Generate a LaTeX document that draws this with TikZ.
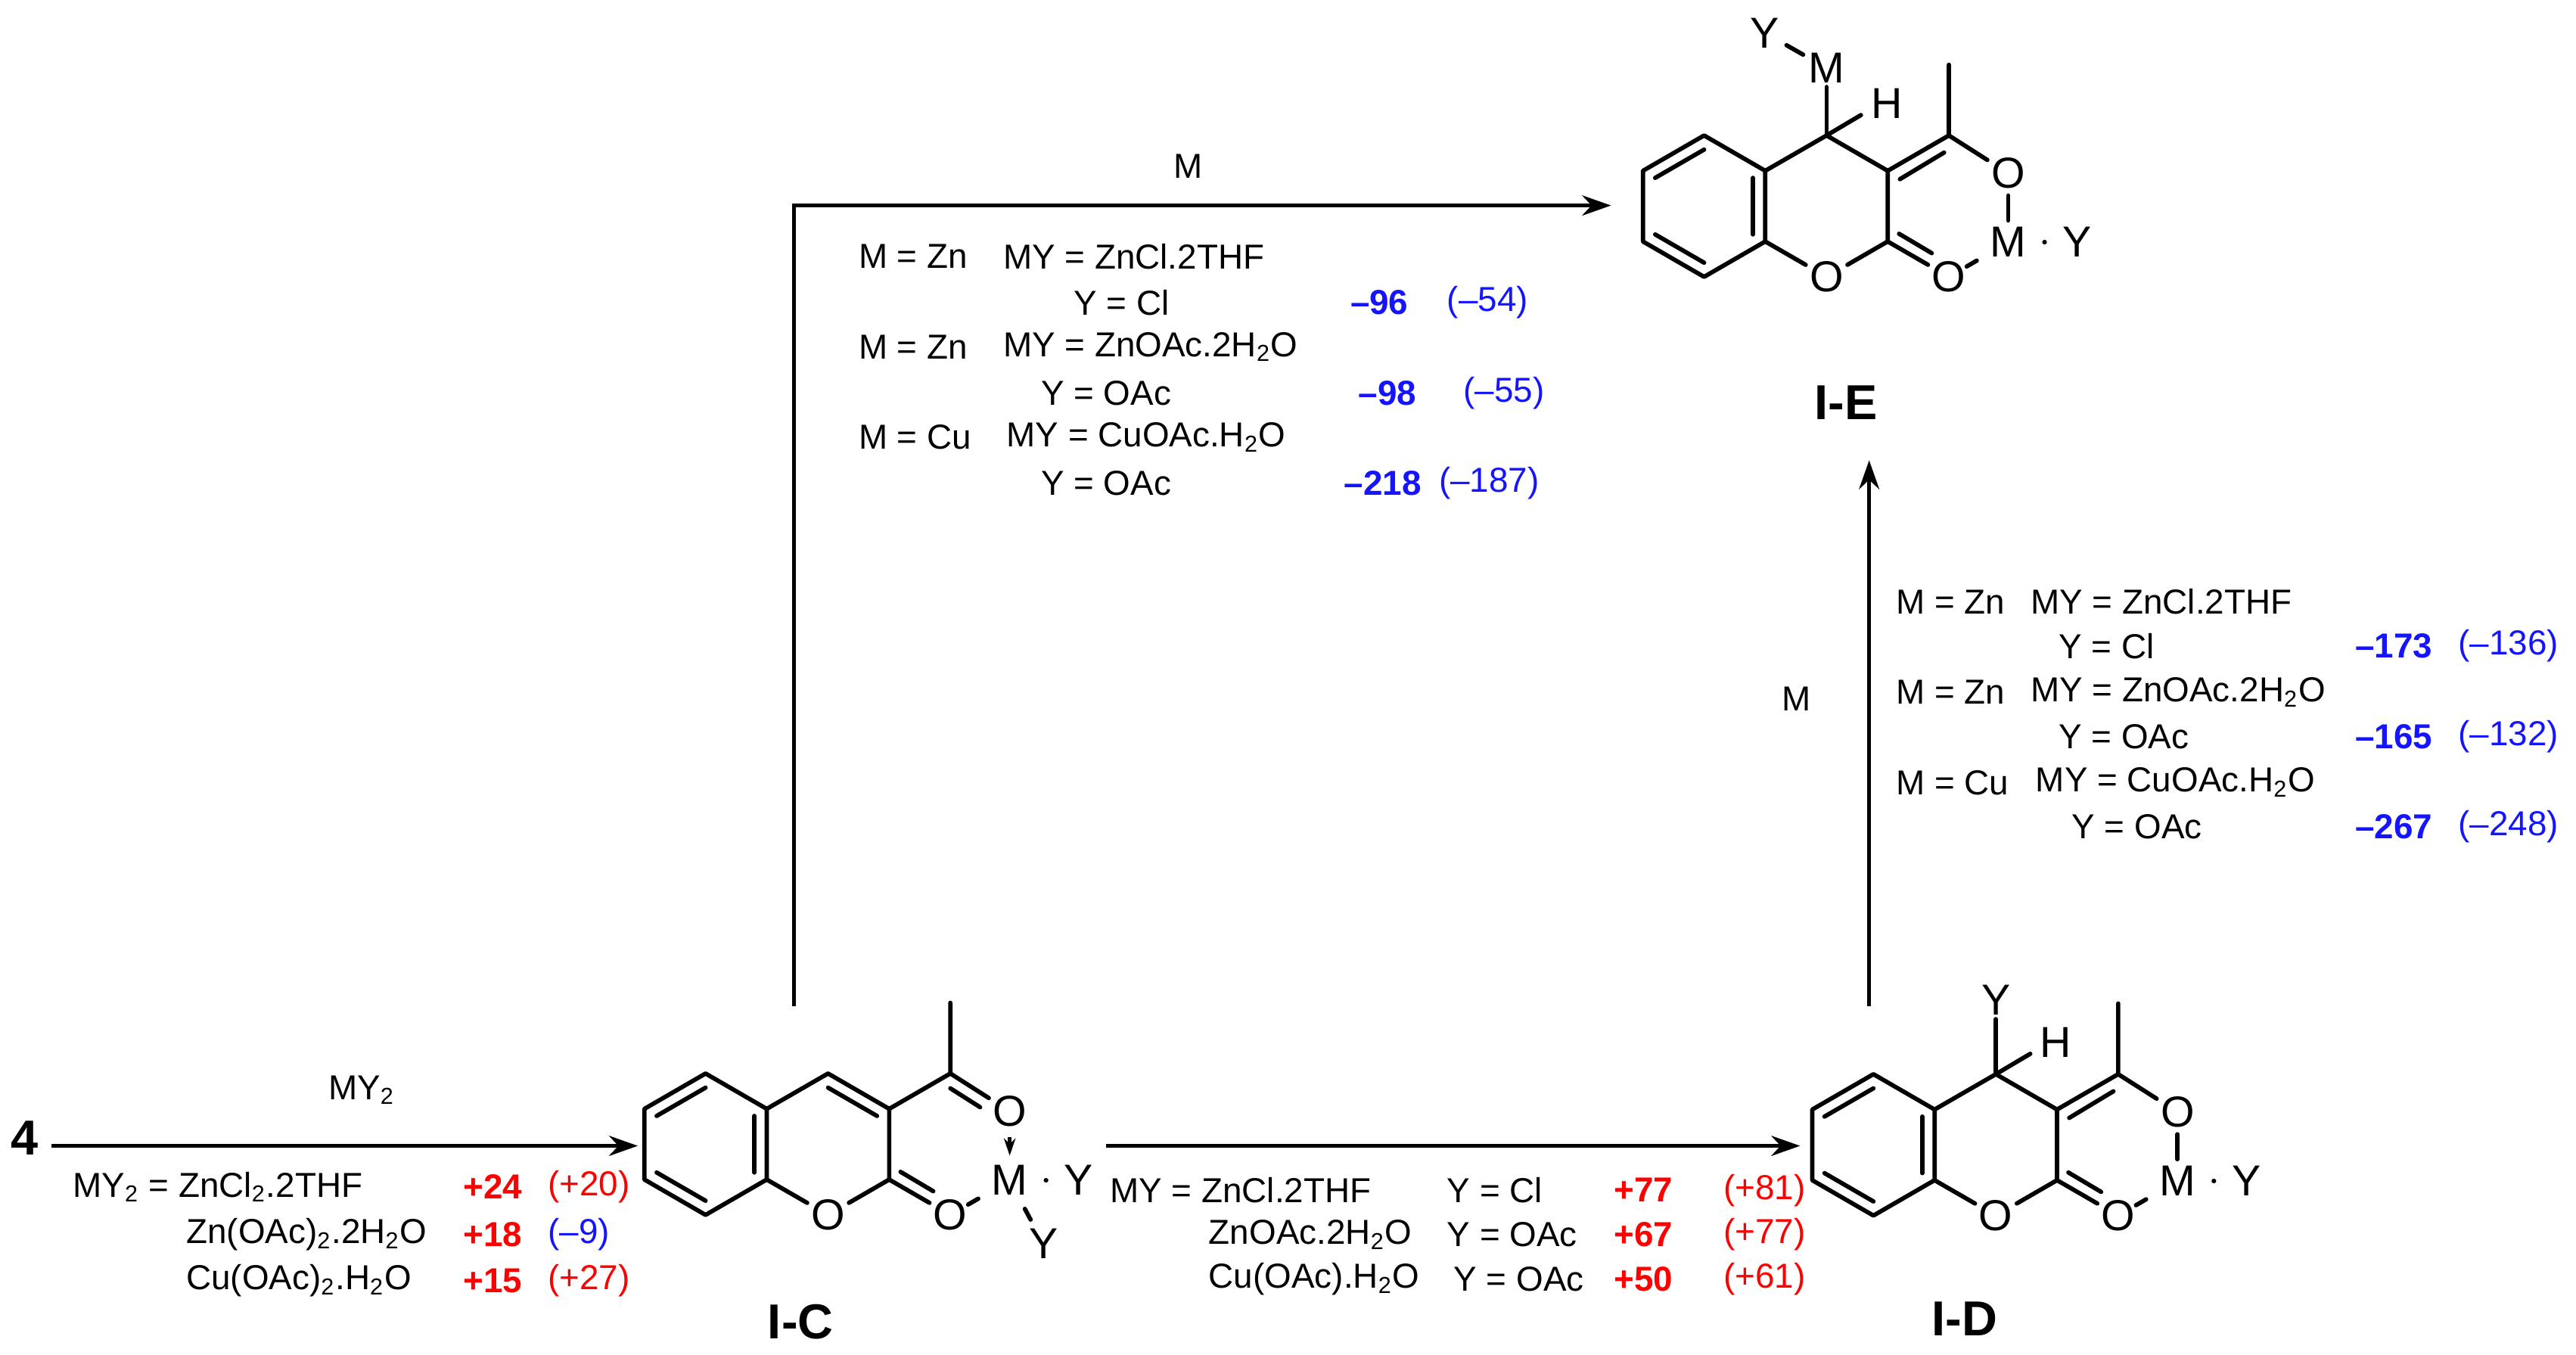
\documentclass[tikz,border=0pt]{standalone}
\usepackage{fontspec}
\setmainfont{Liberation Sans}
\usetikzlibrary{calc,arrows.meta}
\definecolor{myred}{RGB}{255,0,0}
\definecolor{myblue}{RGB}{20,20,255}
\tikzset{
 bond/.style={line width=1.5pt,line cap=round},
 atom/.style={inner sep=1.2pt,font=\fontsize{15}{15}\selectfont},
 rxn/.style={line width=1.3pt,-{Stealth[length=10pt,width=7pt]}},
 txt/.style={inner sep=0pt,anchor=west,font=\fontsize{12}{14}\selectfont},
 rnum/.style={inner sep=0pt,anchor=east,font=\fontsize{12}{14}\selectfont\bfseries,text=myred},
 bnum/.style={inner sep=0pt,anchor=east,font=\fontsize{12}{14}\selectfont\bfseries,text=myblue},
 rpar/.style={inner sep=0pt,anchor=west,font=\fontsize{12}{14}\selectfont,text=myred},
 bpar/.style={inner sep=0pt,anchor=west,font=\fontsize{12}{14}\selectfont,text=myblue},
 lab/.style={font=\fontsize{17}{17}\selectfont\bfseries}
}
\newcommand{\coumcore}[1]{%
 \coordinate (#1c) at (0,0);
 \coordinate (#1b1) at (0,-43); \coordinate (#1b2) at (37.2,-21.5);
 \coordinate (#1b3) at (37.2,21.5); \coordinate (#1b4) at (0,43);
 \coordinate (#1b5) at (-37.2,21.5); \coordinate (#1b6) at (-37.2,-21.5);
 \coordinate (#1C4) at (74.5,-43); \coordinate (#1C3) at (111.7,-21.5);
 \coordinate (#1C2) at (111.7,21.5); \coordinate (#1rc) at (74.5,0);
 \coordinate (#1Ca) at (148.9,-43); \coordinate (#1Me) at (148.9,-86);
 \node[atom] (#1O1) at (74.5,43) {O};
 \node[atom] (#1Oa) at (185,-20) {O};
 \node[atom] (#1M) at (185,22) {M};
 \node[atom] (#1Ox) at (148.9,43) {O};
 \node[atom] (#1Yr) at (227,22) {Y};
 \draw[bond,line join=round] (#1b1)--(#1b2)--(#1b3)--(#1b4)--(#1b5)--(#1b6)--cycle;
 \draw[bond,line join=round] (#1b2)--(#1C4)--(#1C3)--(#1C2);
 \draw[bond] (#1C2)--(#1O1)--(#1b3);
 \draw[bond] ($(#1b6)!.2!(#1c)$)--($(#1b1)!.2!(#1c)$);
 \draw[bond] ($(#1b2)!.2!(#1c)$)--($(#1b3)!.2!(#1c)$);
 \draw[bond] ($(#1b5)!.2!(#1c)$)--($(#1b4)!.2!(#1c)$);
 \draw[bond,line join=round] (#1C3)--(#1Ca)--(#1Me);
 \draw[bond] (#1Ca)--(#1Oa);
 \draw[bond] (#1C2)--(#1Ox);
 \draw[bond] (118.6,16.8)--(138.5,28.6);
 \draw[bond,shorten <=5pt,shorten >=5pt] (#1M)--(#1Yr);
 \draw[bond] ($(#1Ox)!.30!(#1M)$)--($(#1Ox)!.47!(#1M)$);
}
\begin{document}
\begin{tikzpicture}[x=0.02cm,y=-0.02cm]
\useasboundingbox (0,0) rectangle (1567,824);
% ---- I-C ----
\begin{scope}[shift={(429.2,696)}]
 \coumcore{c}
 \draw[bond] ($(cC4)!.2!(crc)$)--($(cC3)!.2!(crc)$);
 \draw[bond] (148.9,-34)--(167,-22.5);
 \draw[line width=1.2pt,-{Stealth[length=6pt,width=4pt]},shorten <=1pt] (185,-6)--(185,7);
 \node[atom] (cYb) at (205.5,60.5) {Y};
 \draw[bond] ($(cM)!.45!(cYb)$)--($(cM)!.62!(cYb)$);
\end{scope}
\node[lab] (IC) at (487,804) {I-C};
% ---- I-E ----
\begin{scope}[shift={(1036.6,125.4)}]
 \coumcore{e}
 \draw[bond] (119.1,-16.4)--(146,-32.6);
 \draw[bond,shorten <=1pt,shorten >=1pt] (eOa)--(eM);
 \node[atom] (eMt) at (74.5,-84) {M};
 \node[atom] (eYt) at (37,-105.4) {Y};
 \node[atom] (eH) at (111,-62.4) {H};
 \draw[bond] (eC4)--(eMt);
 \draw[bond] (eC4)--(95.4,-55.4);
 \draw[bond] ($(eYt)!.35!(eMt)$)--($(eYt)!.62!(eMt)$);
\end{scope}
\node[lab] (IE) at (1123,245) {I-E};
% ---- I-D ----
\begin{scope}[shift={(1139.6,696.4)}]
 \coumcore{d}
 \draw[bond] (119.1,-16.4)--(146,-32.6);
 \draw[bond,shorten <=1pt,shorten >=1pt] (dOa)--(dM);
 \node[atom] (dYt) at (74.5,-88) {Y};
 \node[atom] (dH) at (111,-62.4) {H};
 \draw[bond] (dC4)--(dYt);
 \draw[bond] (dC4)--(95.4,-55.4);
\end{scope}
\node[lab] (ID) at (1195,802) {I-D};
% ---- arrows ----
\node[lab,inner sep=1pt] (four) at (15,692) {4};
\coordinate (cin) at (388,697);
\draw[rxn] (four.east)+(6,5) -- (cin);
\node[txt,anchor=center] (my2) at (220,663) {MY\textsubscript{2}};
\coordinate (cs) at (673,697); \coordinate (de) at (1095,697);
\draw[rxn] (cs)--(de);
\coordinate (cup) at (483,612); \coordinate (ein) at (980,125);
\draw[rxn] (cup)|-(ein);
\node[txt,anchor=center] (mtop) at (723,101) {M};
\coordinate (dup) at (1137,612); \coordinate (eup) at (1137,280);
\draw[rxn] (dup)--(eup);
\node[txt,anchor=center] (mright) at (1093,425) {M};
% ---- left table ----
\node[txt] (l1) at (44,722) {MY\textsubscript{2} = ZnCl\textsubscript{2}.2THF};
\node[txt] (l2) at (113,751) {Zn(OAc)\textsubscript{2}.2H\textsubscript{2}O};
\node[txt] (l3) at (113,779) {Cu(OAc)\textsubscript{2}.H\textsubscript{2}O};
\node[rnum] (l1n) at (318,722) {+24}; \node[rpar] (l1p) at (333,722) {(+20)};
\node[rnum] (l2n) at (318,751) {+18}; \node[bpar] (l2p) at (333,751) {(--9)};
\node[rnum] (l3n) at (318,779) {+15}; \node[rpar] (l3p) at (333,779) {(+27)};
% ---- middle table ----
\node[txt] (m1) at (675,724) {MY = ZnCl.2THF};
\node[txt] (m2) at (735,751) {ZnOAc.2H\textsubscript{2}O};
\node[txt] (m3) at (735,778) {Cu(OAc).H\textsubscript{2}O};
\node[txt] (m1y) at (880,724) {Y = Cl};
\node[txt] (m2y) at (880,751) {Y = OAc};
\node[txt] (m3y) at (884,778) {Y = OAc};
\node[rnum] (m1n) at (1018,724) {+77}; \node[rpar] (m1p) at (1048,724) {(+81)};
\node[rnum] (m2n) at (1018,751) {+67}; \node[rpar] (m2p) at (1048,751) {(+77)};
\node[rnum] (m3n) at (1018,778) {+50}; \node[rpar] (m3p) at (1048,778) {(+61)};
% ---- top table ----
\node[txt] (t1) at (522,156) {M = Zn};
\node[txt] (t1b) at (610,156) {MY = ZnCl.2THF};
\node[txt] (t2) at (653,184) {Y = Cl};
\node[txt] (t3) at (522,211) {M = Zn};
\node[txt] (t3b) at (610,211) {MY = ZnOAc.2H\textsubscript{2}O};
\node[txt] (t4) at (633,239) {Y = OAc};
\node[txt] (t5) at (522,266) {M = Cu};
\node[txt] (t5b) at (612,266) {MY = CuOAc.H\textsubscript{2}O};
\node[txt] (t6) at (633,294) {Y = OAc};
\node[bnum] (t2n) at (857,184) {--96}; \node[bpar] (t2p) at (880,184) {(--54)};
\node[bnum] (t4n) at (862,239) {--98}; \node[bpar] (t4p) at (890,239) {(--55)};
\node[bnum] (t6n) at (865,294) {--218}; \node[bpar] (t6p) at (875,294) {(--187)};
% ---- right table ----
\node[txt] (r1) at (1153,366) {M = Zn};
\node[txt] (r1b) at (1235,366) {MY = ZnCl.2THF};
\node[txt] (r2) at (1252,393) {Y = Cl};
\node[txt] (r3) at (1153,421) {M = Zn};
\node[txt] (r3b) at (1235,421) {MY = ZnOAc.2H\textsubscript{2}O};
\node[txt] (r4) at (1252,448) {Y = OAc};
\node[txt] (r5) at (1153,476) {M = Cu};
\node[txt] (r5b) at (1238,476) {MY = CuOAc.H\textsubscript{2}O};
\node[txt] (r6) at (1260,503) {Y = OAc};
\node[bnum] (r2n) at (1480,393) {--173}; \node[bpar] (r2p) at (1495,393) {(--136)};
\node[bnum] (r4n) at (1480,448) {--165}; \node[bpar] (r4p) at (1495,448) {(--132)};
\node[bnum] (r6n) at (1480,503) {--267}; \node[bpar] (r6p) at (1495,503) {(--248)};
\end{tikzpicture}
\end{document}
